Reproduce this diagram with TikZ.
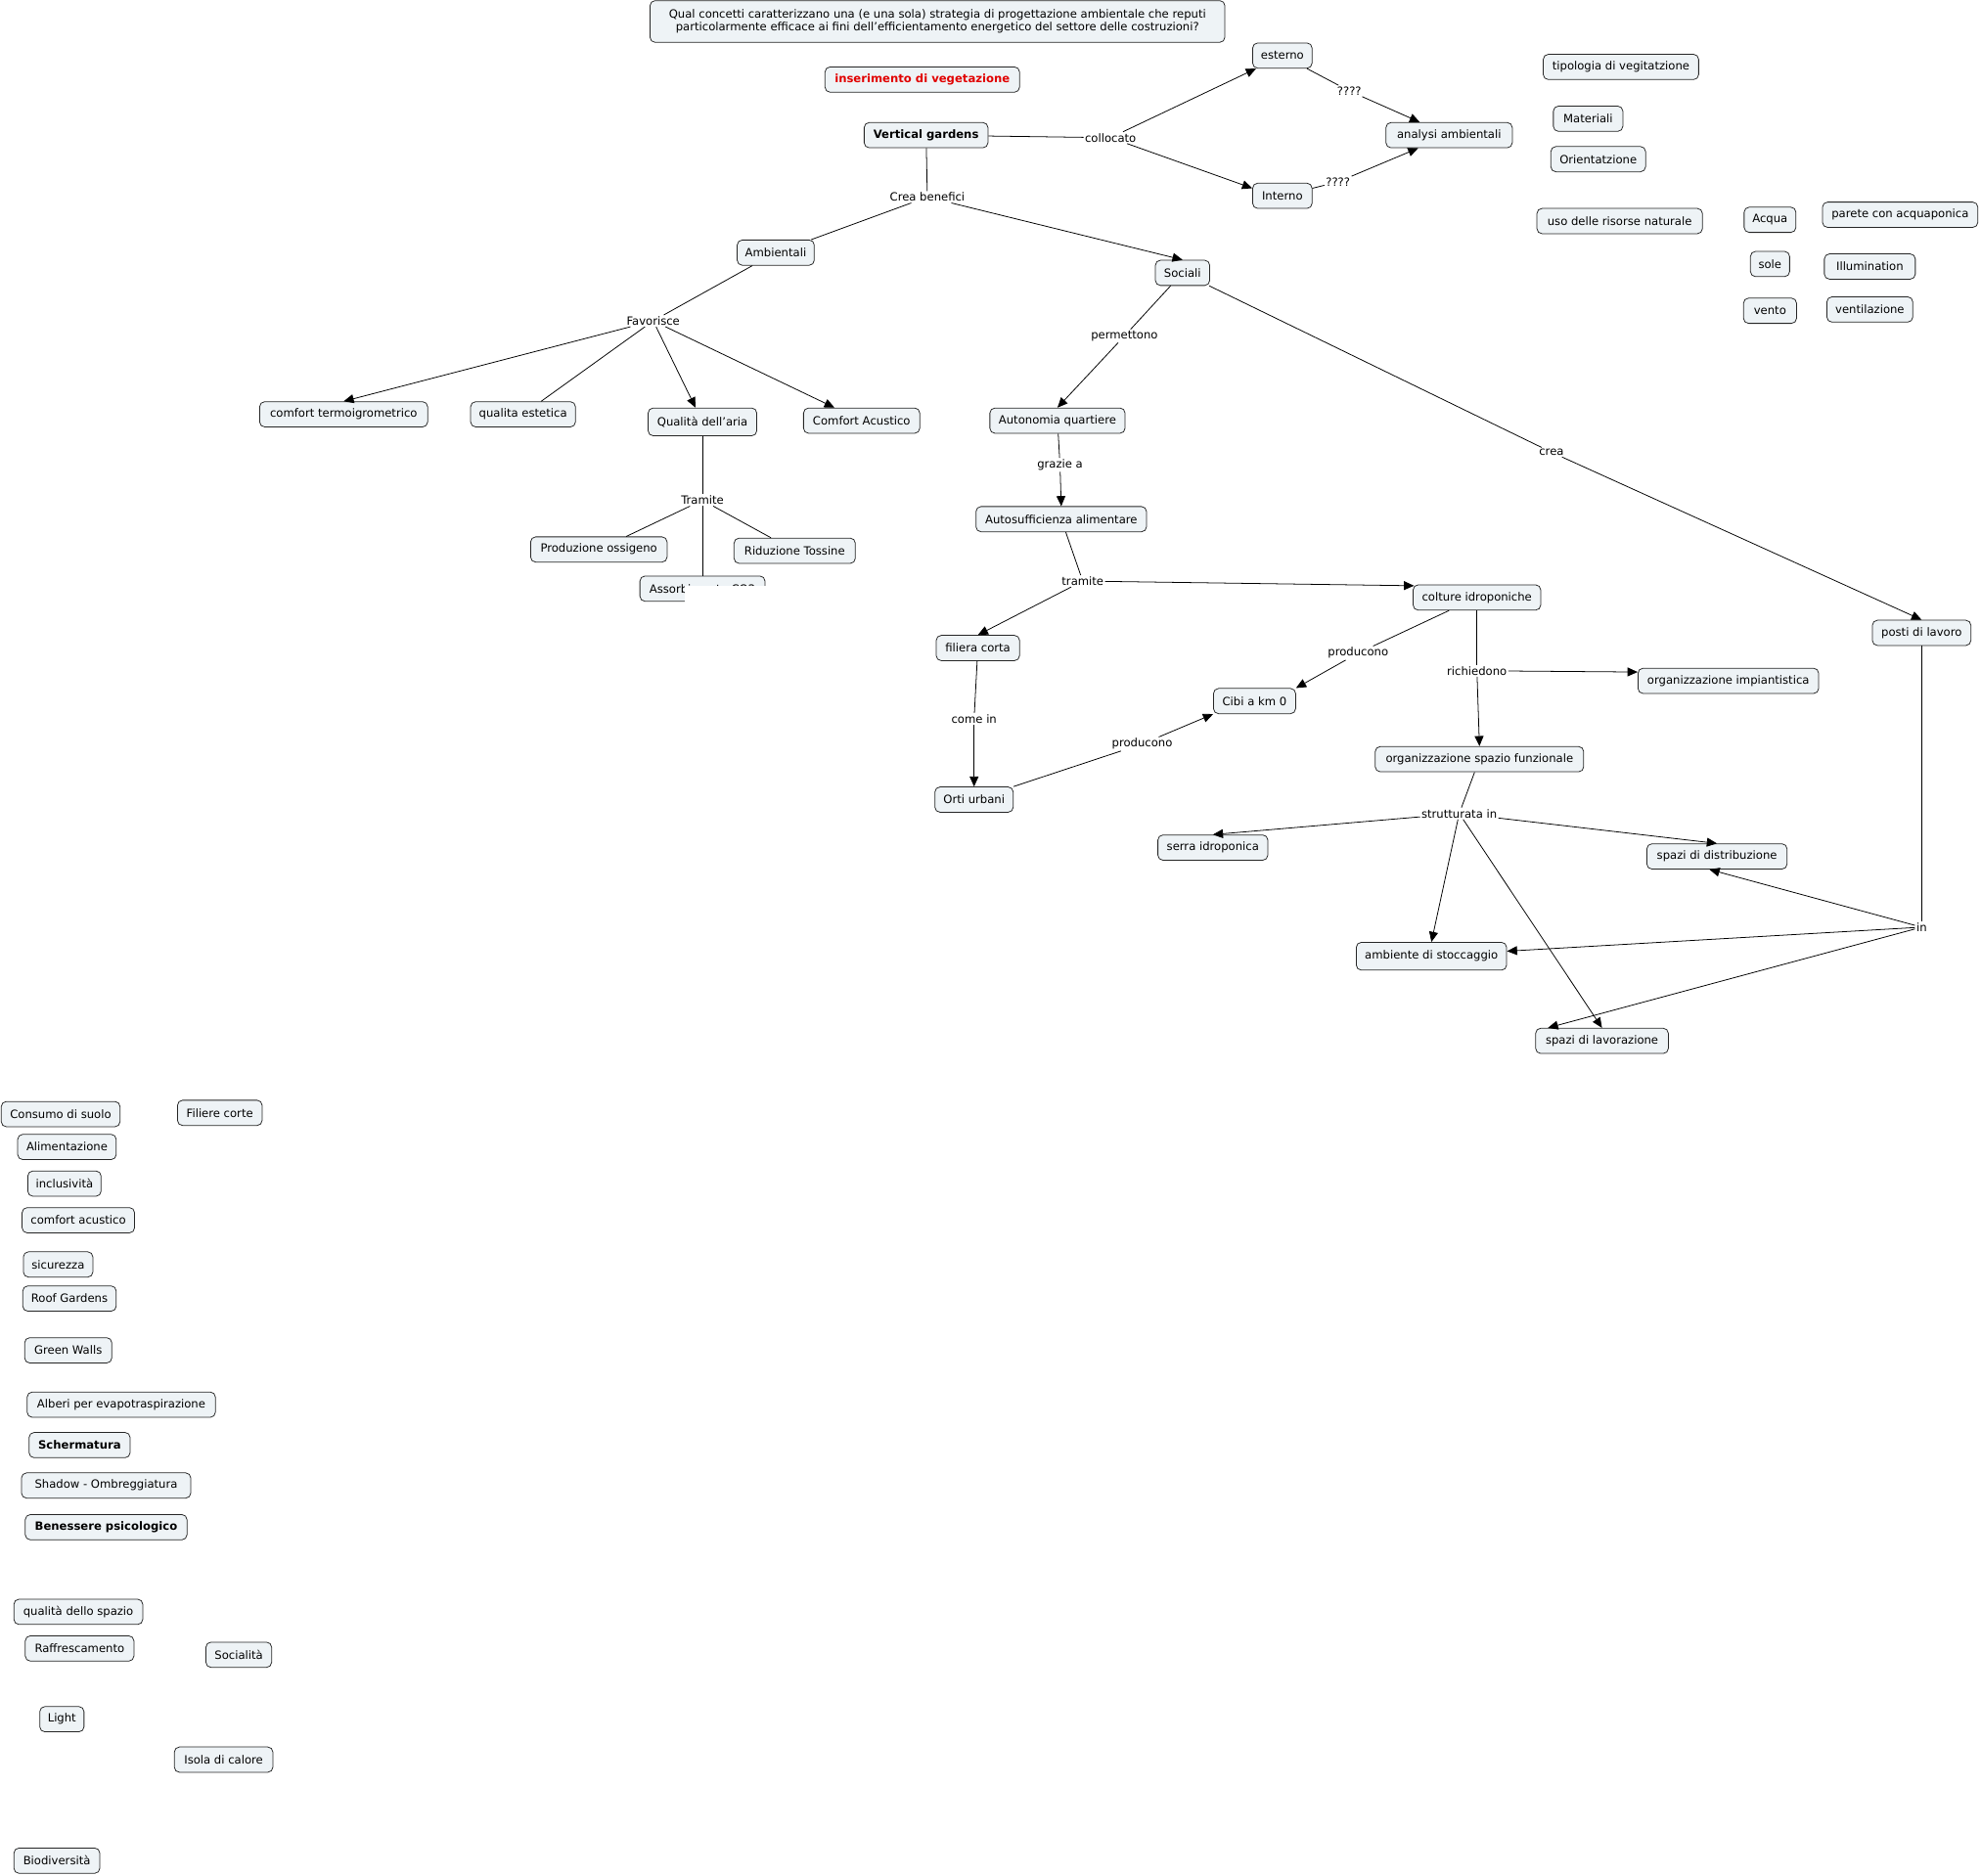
\documentclass[tikz,border=0pt]{standalone}
\usepackage{fontspec}
\setmainfont{DejaVu Sans}
\usetikzlibrary{arrows.meta}
\definecolor{cfill}{RGB}{238,243,246}
\definecolor{cred}{RGB}{225,0,0}
\newcommand\cn[6][]{\node[cbox,minimum width=#5pt,#1] (#2) at (#3,#4) {#6};}
\newcommand\lb[4]{\node[lbl] (#1) at (#2,#3) {#4};}
\begin{document}
\begin{tikzpicture}[x=1pt,y=-1pt,
 cbox/.style={draw=black!85, fill=cfill, rounded corners=4pt, line width=0.6pt, inner xsep=2pt, inner ysep=0pt, minimum height=20pt, font=\fontsize{9}{10.5}\selectfont},
 lbl/.style={fill=white, inner sep=1pt, font=\fontsize{9}{10.5}\selectfont},
 con/.style={draw, line width=0.6pt},
 arr/.style={con, -{Triangle[length=8pt,width=7pt]}},
]
\useasboundingbox (0,0) rectangle (1568,1485);
% --- top
\cn[minimum height=33pt,align=center]{q}{742}{17}{455}{Qual concetti caratterizzano una (e una sola) strategia di progettazione ambientale che reputi\\particolarmente efficace ai fini dell’efficientamento energetico del settore delle costruzioni?}
\cn[text=cred,font=\fontsize{9}{10.5}\selectfont\bfseries]{ins}{730}{63}{154}{inserimento di vegetazione}
\cn[font=\fontsize{9}{10.5}\selectfont\bfseries]{vg}{733}{107}{98}{Vertical gardens}
\cn{est}{1015}{44}{47}{esterno}
\cn{int}{1015}{155}{47}{Interno}
\cn{ana}{1147}{107}{100}{analysi ambientali}
\cn{tip}{1283}{53}{123}{tipologia di vegitatzione}
\cn{mat}{1257}{94}{55}{Materiali}
\cn{ori}{1265}{126}{75}{Orientatzione}
\cn{uso}{1282}{175}{131}{uso delle risorse naturale}
\cn{acq}{1401}{174}{41}{Acqua}
\cn{par}{1504}{170}{123}{parete con acquaponica}
\cn{sole}{1401}{209}{31}{sole}
\cn{ill}{1480}{211}{72}{Illumination}
\cn{ven}{1401}{246}{42}{vento}
\cn{vent}{1480}{245}{68}{ventilazione}
% --- main tree
\cn{amb}{614}{200}{61}{Ambientali}
\cn{soc}{936}{216}{43}{Sociali}
\cn{cft}{272}{328}{133}{comfort termoigrometrico}
\cn{qes}{414}{328}{83}{qualita estetica}
\cn[minimum height=22pt]{qar}{556}{334}{86}{Qualità dell'aria}
\cn{cac}{682}{333}{92}{Comfort Acustico}
\cn{pro}{474}{435}{108}{Produzione ossigeno}
\cn{rid}{629}{436}{96}{Riduzione Tossine}
\cn{ass}{556}{466}{99}{Assorbimento CO2}
\cn{aut}{837}{333}{107}{Autonomia quartiere}
\cn{asa}{840}{411}{135}{Autosufficienza alimentare}
\cn{fil}{774}{513}{66}{filiera corta}
\cn{col}{1169}{473}{101}{colture idroponiche}
\cn{ort}{771}{633}{62}{Orti urbani}
\cn{cibi}{993}{555}{65}{Cibi a km 0}
\cn{oimp}{1368}{539}{143}{organizzazione impiantistica}
\cn{osf}{1171}{601}{165}{organizzazione spazio funzionale}
\cn{serra}{960}{671}{87}{serra idroponica}
\cn{sdis}{1359}{678}{111}{spazi di distribuzione}
\cn[minimum height=22pt]{stoc}{1133}{757}{119}{ambiente di stoccaggio}
\cn{slav}{1268}{824}{105}{spazi di lavorazione}
\cn{posti}{1521}{501}{78}{posti di lavoro}
% --- left column
\cn{cons}{48}{882}{94}{Consumo di suolo}
\cn{filc}{174}{881}{67}{Filiere corte}
\cn{alim}{53}{908}{78}{Alimentazione}
\cn{incl}{51}{937}{58}{inclusività}
\cn{cacu}{62}{966}{89}{comfort acustico}
\cn{sic}{46}{1001}{55}{sicurezza}
\cn{roof}{55}{1028}{74}{Roof Gardens}
\cn{gw}{54}{1069}{69}{Green Walls}
\cn{alb}{96}{1112}{149}{Alberi per evapotraspirazione}
\cn[font=\fontsize{9}{10.5}\selectfont\bfseries]{scher}{63}{1144}{80}{Schermatura}
\cn{shad}{84}{1176}{134}{Shadow - Ombreggiatura}
\cn[font=\fontsize{9}{10.5}\selectfont\bfseries]{ben}{84}{1209}{128}{Benessere psicologico}
\cn{qsp}{62}{1276}{102}{qualità dello spazio}
\cn{raf}{63}{1305}{86}{Raffrescamento}
\cn{socl}{189}{1310}{52}{Socialità}
\cn{light}{49}{1361}{35}{Light}
\cn{isola}{177}{1393}{78}{Isola di calore}
\cn{bio}{45}{1473}{68}{Biodiversità}
% --- labels
\lb{coll}{879}{109}{collocato}
\lb{qa}{1068}{72}{????}
\lb{qb}{1059}{144}{????}
\lb{cb}{734}{156}{Crea benefici}
\lb{fav}{517}{254}{Favorisce}
\lb{tra}{556}{396}{Tramite}
\lb{perm}{890}{266}{permettono}
\lb{grz}{839}{368}{grazie a}
\lb{trb}{857}{460}{tramite}
\lb{come}{771}{569}{come in}
\lb{proa}{904}{589}{producono}
\lb{prob}{1075}{517}{producono}
\lb{rich}{1169}{531}{richiedono}
\lb{strut}{1155}{644}{strutturata in}
\lb{crea}{1228}{358}{crea}
\lb{inl}{1521}{734}{in}
% --- connectors
\draw[con] (vg) -- (coll);
\draw[arr] (coll) -- ([xshift=3pt]est.south west);
\draw[arr] (coll) -- ([yshift=6pt]int.west);
\draw[con] (est) -- (qa);
\draw[arr] (qa) -- (ana);
\draw[con] (int) -- (qb);
\draw[arr] (qb) -- (ana);
\draw[con] (vg) -- (cb);
\draw[con] (cb) -- (amb);
\draw[arr] (cb) -- (soc.north);
\draw[con] (amb) -- (fav);
\draw[arr] (fav) -- (cft.north);
\draw[con] (fav) -- (qes);
\draw[arr] (fav) -- (qar);
\draw[arr] (fav) -- (cac);
\draw[con] (qar) -- (tra);
\draw[con] (tra) -- (pro);
\draw[con] (tra) -- (rid);
\draw[con] (tra) -- (ass);
\draw[con] (soc) -- (perm);
\draw[arr] (perm) -- (aut.north);
\draw[con] (aut) -- (grz);
\draw[arr] (grz) -- (asa.north);
\draw[con] (asa) -- (trb);
\draw[arr] (trb) -- (fil.north);
\draw[arr] (trb) -- ([xshift=1pt,yshift=-1pt]col.north west);
\draw[con] (fil) -- (come);
\draw[arr] (come) -- (ort.north);
\draw[con] (ort) -- (proa);
\draw[arr] (proa) -- (cibi.south west);
\draw[con] (col) -- (prob);
\draw[arr] (prob) -- (cibi.north east);
\draw[con] (col) -- (rich);
\draw[arr] (rich) -- ([yshift=7pt]oimp.west);
\draw[arr] (rich) -- (osf.north);
\draw[con] (osf) -- (strut);
\draw[arr] (strut) -- (serra.north);
\draw[arr] (strut) -- (sdis.north);
\draw[arr] (strut) -- (stoc.north);
\draw[arr] (strut) -- (slav.north);
\draw[con] (soc) -- (crea);
\draw[arr] (crea) -- (posti.north);
\draw[con] (posti) -- (inl);
\draw[arr] (inl) -- ([xshift=-6pt]sdis.south);
\draw[arr] (inl) -- ([yshift=4pt]stoc.east);
\draw[arr] (inl) -- ([xshift=10pt]slav.north west);
% white patch over the Assorbimento node, as in the picture
\fill[white] (542,464) rectangle (620,486);
\end{tikzpicture}
\end{document}
